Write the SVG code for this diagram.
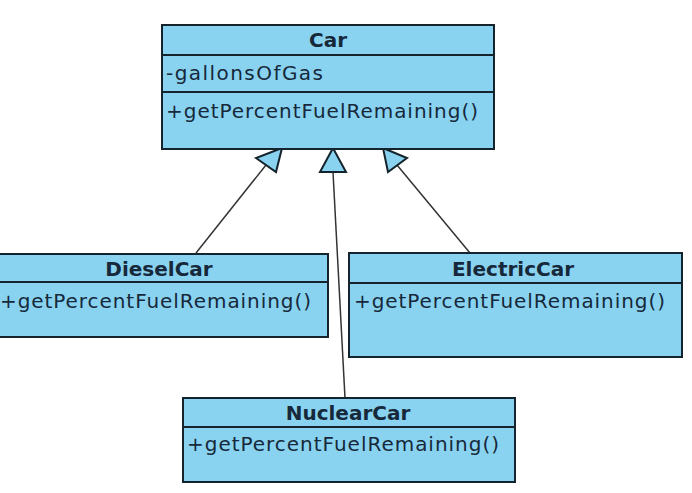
<svg xmlns="http://www.w3.org/2000/svg" width="692" height="493" viewBox="0 0 692 493">
<style>
.box{fill:#89d3f1;stroke:#15232c;stroke-width:2}
.div{stroke:#15232c;stroke-width:2}
.t{font-family:"DejaVu Sans",sans-serif;font-size:20px;fill:#16283a}
.b{font-weight:bold;text-anchor:middle}
.edge{stroke:#333;stroke-width:1.5;fill:none}
.head{fill:#89d3f1;stroke:#15232c;stroke-width:2;stroke-linejoin:miter}
</style>
<rect width="692" height="493" fill="#ffffff"/>
<g id="connectors">
<line class="edge" x1="266" y1="165" x2="196" y2="253"/>
<line class="edge" x1="333" y1="172" x2="345" y2="398"/>
<line class="edge" x1="397" y1="165" x2="470" y2="253"/>
<polygon class="head" points="282,148 256,158 276,172"/>
<polygon class="head" points="333,148 320,172 346,172"/>
<polygon class="head" points="383,148 407,158 388,172"/>
</g>
<g id="Car">
<rect class="box" x="162" y="25" width="332" height="124"/>
<line class="div" x1="162" y1="55" x2="494" y2="55"/>
<line class="div" x1="162" y1="92" x2="494" y2="92"/>
<text class="t b" x="328" y="47">Car</text>
<text class="t" x="166" y="80" textLength="157" lengthAdjust="spacing">-gallonsOfGas</text>
<text class="t" x="166" y="118" textLength="312" lengthAdjust="spacing">+getPercentFuelRemaining()</text>
</g>
<g id="DieselCar">
<rect class="box" x="-10" y="254" width="338" height="83"/>
<line class="div" x1="-10" y1="282" x2="328" y2="282"/>
<text class="t b" x="159" y="276">DieselCar</text>
<text class="t" x="0" y="308" textLength="311" lengthAdjust="spacing">+getPercentFuelRemaining()</text>
</g>
<g id="ElectricCar">
<rect class="box" x="349" y="253" width="333" height="104"/>
<line class="div" x1="349" y1="283" x2="682" y2="283"/>
<text class="t b" x="513" y="276">ElectricCar</text>
<text class="t" x="354" y="308" textLength="311" lengthAdjust="spacing">+getPercentFuelRemaining()</text>
</g>
<g id="NuclearCar">
<rect class="box" x="183" y="398" width="332" height="84"/>
<line class="div" x1="183" y1="427" x2="515" y2="427"/>
<text class="t b" x="348" y="420">NuclearCar</text>
<text class="t" x="187" y="451" textLength="312" lengthAdjust="spacing">+getPercentFuelRemaining()</text>
</g>
</svg>
